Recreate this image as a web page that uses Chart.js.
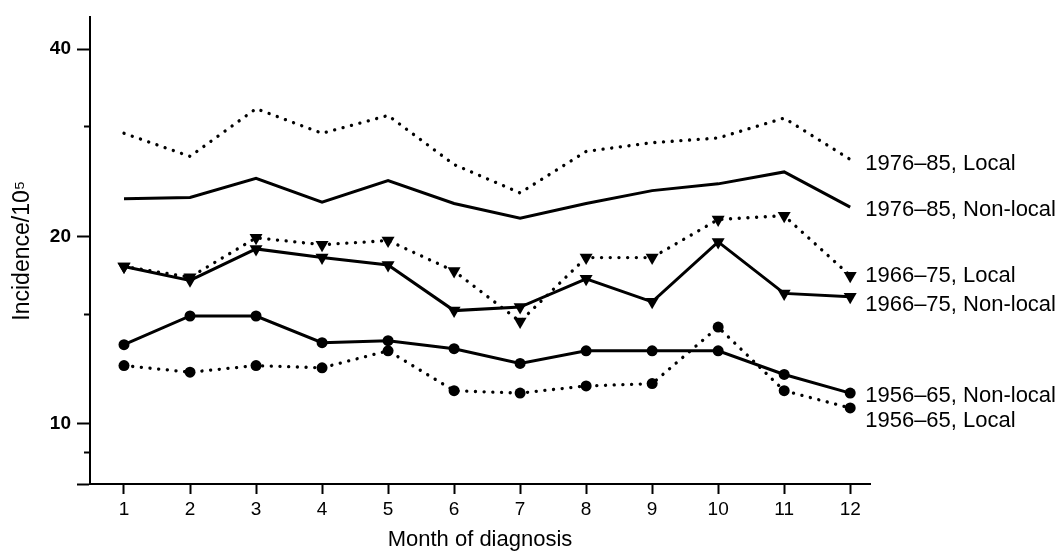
<!DOCTYPE html>
<html>
<head>
<meta charset="utf-8">
<script src="https://cdn.jsdelivr.net/npm/chart.js@4/dist/chart.umd.min.js"></script>
<style>
html,body{margin:0;padding:0;background:#fff;}
#wrap{width:1062px;height:555px;position:relative;}
</style>
</head>
<body>
<div id="wrap"><canvas id="c" width="1062" height="555"></canvas></div>
<script>
// ---- data ----
const months = [1,2,3,4,5,6,7,8,9,10,11,12];
const xTickLabels = ['1','2','3','4','5','6','7','8','9','10','11','12'];
const yTickValues = [8, 10, 20, 40];
const yTickLabels = ['', '10', '20', '40'];
const yMinorTicks = [9, 15, 30];

const local7685    = [29.3,26.9,32.1,29.3,31.3,26.1,23.5,27.4,28.3,28.8,31.0,26.6];
const nonlocal7685 = [23.0,23.1,24.8,22.7,24.6,22.6,21.4,22.6,23.7,24.3,25.4,22.3];
const local6675    = [17.9,17.2,19.9,19.4,19.7,17.6,14.6,18.5,18.5,21.3,21.6,17.3];
const nonlocal6675 = [17.9,17.0,19.1,18.5,18.0,15.2,15.4,17.1,15.7,19.6,16.2,16.0];
const nonlocal5665 = [13.4,14.9,14.9,13.5,13.6,13.2,12.5,13.1,13.1,13.1,12.0,11.2];
const local5665    = [12.4,12.1,12.4,12.3,13.1,11.3,11.2,11.5,11.6,14.3,11.3,10.6];

const seriesNames = ['1976\u201385, Local','1976\u201385, Non-local','1966\u201375, Local','1966\u201375, Non-local','1956\u201365, Non-local','1956\u201365, Local'];
const labelAnchors = [26.2, 22.1, 17.3, 15.5, 11.1, 10.1];

// ---- build ----
const toPts = arr => arr.map((v,i)=>({x:months[i], y:v}));
const dotted = {borderDash:[0.1, 8.6], borderCapStyle:'round', borderWidth:3.3};
const solid = {borderWidth:3};
function ds(name, vals, lineStyle, marker){
  const base = {
    label:name, data:toPts(vals), yAxisID:'y', xAxisID:'x',
    borderColor:'#000', backgroundColor:'#000',
    pointBackgroundColor:'#000', pointBorderColor:'#000', pointBorderWidth:0,
    tension:0, fill:false, showLine:true
  };
  Object.assign(base, lineStyle);
  if (marker === 'circle') { base.pointStyle='circle'; base.pointRadius=5.5; }
  else if (marker === 'triangle') { base.pointStyle='triangle'; base.pointRadius=7.5; base.pointRotation=180; }
  else { base.pointRadius=0; }
  base.pointHoverRadius = base.pointRadius;
  return base;
}

const datasets = [
  ds(seriesNames[0], local7685, dotted, null),
  ds(seriesNames[1], nonlocal7685, solid, null),
  ds(seriesNames[2], local6675, dotted, 'triangle'),
  ds(seriesNames[3], nonlocal6675, solid, 'triangle'),
  ds(seriesNames[4], nonlocal5665, solid, 'circle'),
  ds(seriesNames[5], local5665, dotted, 'circle')
];

const FONT = '"Liberation Sans", Arial, Helvetica, sans-serif';

const sideLabels = {
  id:'sideLabels',
  afterDraw(chart){
    const ctx = chart.ctx, x = chart.scales.x, y = chart.scales.y;
    ctx.save();
    ctx.fillStyle = '#000';
    ctx.font = '22px ' + FONT;
    ctx.textBaseline = 'middle';
    ctx.textAlign = 'left';
    const lx = x.getPixelForValue(months[months.length-1]) + 15;
    seriesNames.forEach((n,i)=>{
      ctx.fillText(n, lx, y.getPixelForValue(labelAnchors[i]));
    });
    ctx.restore();
  }
};

new Chart(document.getElementById('c'), {
  type:'line',
  data:{datasets},
  plugins:[sideLabels],
  options:{
    responsive:false, animation:false,
    layout:{padding:{top:12, right:192, left:0, bottom:0}},
    plugins:{legend:{display:false}, tooltip:{enabled:false}},
    scales:{
      x:{
        type:'linear', position:'bottom', min:0.485, max:12.3,
        afterBuildTicks(s){ s.ticks = months.map(v=>({value:v})); },
        afterFit(s){ s.height = 71; },
        border:{display:true, color:'#000', width:2},
        grid:{drawOnChartArea:false, drawTicks:true, tickLength:10, tickColor:'#000', tickWidth:2},
        ticks:{color:'#000', padding:4, font:{family:FONT, size:19},
               callback:(v)=> xTickLabels[months.indexOf(v)] ?? '' , maxRotation:0, autoSkip:false},
        title:{display:true, text:'Month of diagnosis', color:'#000', font:{family:FONT, size:22}, padding:{top:0,bottom:2}}
      },
      y:{
        type:'logarithmic', position:'left', min:8, max:45, weight:1,
        afterBuildTicks(s){ s.ticks = yTickValues.map(v=>({value:v})); },
        afterFit(s){ s.width = 90; },
        border:{display:true, color:'#000', width:2},
        grid:{drawOnChartArea:false, drawTicks:true, tickLength:13, tickColor:'#000', tickWidth:2},
        ticks:{color:'#000', padding:6, font:{family:FONT, size:19, weight:'bold'},
               callback:(v)=> yTickLabels[yTickValues.indexOf(v)] ?? '', autoSkip:false},
        title:{display:true, text:'Incidence/10\u2075', color:'#000', font:{family:FONT, size:23}, padding:{top:9,bottom:0}}
      },
      y2:{
        type:'logarithmic', position:'left', min:8, max:45, weight:0,
        afterBuildTicks(s){ s.ticks = yMinorTicks.map(v=>({value:v})); },
        afterFit(s){ s.width = 0; },
        border:{display:false},
        grid:{drawOnChartArea:false, drawTicks:true, tickLength:6, tickColor:'#000', tickWidth:2},
        ticks:{display:false}
      }
    }
  }
});
</script>
</body>
</html>
